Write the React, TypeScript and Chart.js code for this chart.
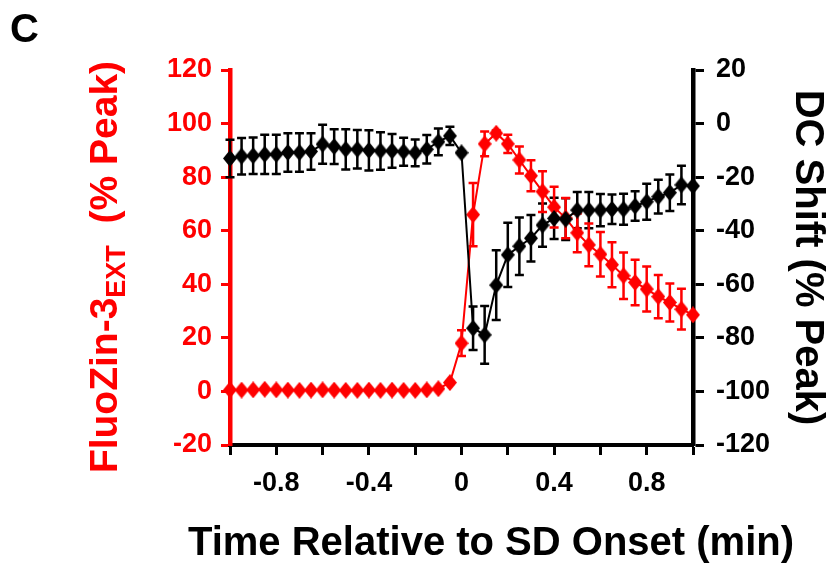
import React, { useEffect, useRef } from 'react';
import { Chart, registerables } from 'chart.js';

Chart.register(...registerables);

// Time relative to SD onset (min)
const timeMin = [
  -1, -0.95, -0.9, -0.85, -0.8, -0.75, -0.7, -0.65, -0.6, -0.55, -0.5,
  -0.45, -0.4, -0.35, -0.3, -0.25, -0.2, -0.15, -0.1, -0.05, 0,
  0.05, 0.1, 0.15, 0.2, 0.25, 0.3, 0.35, 0.4, 0.45, 0.5,
  0.55, 0.6, 0.65, 0.7, 0.75, 0.8, 0.85, 0.9, 0.95, 1,
];

// FluoZin-3 EXT (% Peak), left axis
const fluoZinMean = [
  0.6, 0.5, 0.6, 0.8, 0.6, 0.5, 0.4, 0.5, 0.6, 0.5, 0.4,
  0.4, 0.5, 0.4, 0.5, 0.4, 0.4, 0.6, 1.0, 3.3, 18,
  66, 92.4, 96.4, 92.4, 86.4, 80.5, 74.6, 68.8, 64.7, 59.2,
  54.7, 51.2, 47.3, 43.2, 40.7, 38.2, 35.4, 33.2, 30.7, 28.6,
];
const fluoZinSem = [
  0, 0, 0, 0, 0, 0, 0, 0, 0, 0, 0,
  0, 0, 0, 0, 0, 0, 0, 0, 0.5, 4.8,
  11.8, 4.6, 1, 3.4, 5, 5.8, 7.6, 7.6, 7.5, 7.2,
  8, 8.3, 8.4, 8.7, 8.5, 8.4, 8.1, 7.1, 7.6, 0,
];

// DC Shift (% Peak), right axis
const dcShiftMean = [
  -13, -12.2, -12, -11.5, -11.5, -10.8, -10.8, -10.4, -7.7, -8.6, -9.6,
  -9.6, -10, -10.2, -10.2, -10.5, -10.9, -9.6, -6.8, -4.6, -10.9,
  -76.4, -78.9, -60.3, -49, -45.8, -42.8, -37.9, -35.4, -35.7, -32.3,
  -32.3, -32.3, -32, -32, -30.8, -29.2, -27.3, -25.8, -22.9, -23.3,
];
const dcShiftSem = [
  7, 6.8, 6.8, 7.3, 7.3, 7.2, 7.2, 6.8, 7.3, 6.5, 7.5,
  7.2, 7.5, 7, 6.3, 5.2, 5, 5.3, 5, 3.4, 0.5,
  8.1, 10.8, 13, 12, 10.7, 8.7, 8.1, 7.7, 7.8, 6.8,
  6.8, 6, 5.5, 5.8, 5.5, 6.7, 6.3, 6.8, 7.2, 0,
];

const xTickValues = [-0.8, -0.4, 0, 0.4, 0.8];
const xTickLabels = ['-0.8', '-0.4', '0', '0.4', '0.8'];

const RED = '#ff0000';
const BLACK = '#000000';
const FONT = '"Liberation Sans", Arial, Helvetica, sans-serif';

export default function App() {
  const ref = useRef<HTMLCanvasElement>(null);

  useEffect(() => {
    const canvas = ref.current;
    if (!canvas) return;

    const makeDiamond = (color: string) => {
      const c = document.createElement('canvas');
      const w = 14;
      const h = 17;
      c.width = w;
      c.height = h;
      const g = c.getContext('2d')!;
      g.fillStyle = color;
      g.beginPath();
      g.moveTo(w / 2, 0);
      g.lineTo(w, h / 2);
      g.lineTo(w / 2, h);
      g.lineTo(0, h / 2);
      g.closePath();
      g.fill();
      return c;
    };

    const errorSets = [
      { mean: dcShiftMean, sem: dcShiftSem, axis: 'yR', color: BLACK },
      { mean: fluoZinMean, sem: fluoZinSem, axis: 'yL', color: RED },
    ];

    const errorBarPlugin = {
      id: 'errorBars',
      beforeDatasetsDraw(chart: any) {
        const ctx = chart.ctx;
        const xs = chart.scales.x;
        ctx.save();
        errorSets.forEach((s) => {
          const ys = chart.scales[s.axis];
          ctx.strokeStyle = s.color;
          ctx.lineWidth = 2.5;
          s.mean.forEach((m, i) => {
            const e = s.sem[i];
            if (!e) return;
            const px = xs.getPixelForValue(timeMin[i]);
            const top = ys.getPixelForValue(m + e);
            const bot = ys.getPixelForValue(m - e);
            const cap = 4.5;
            ctx.beginPath();
            ctx.moveTo(px, top);
            ctx.lineTo(px, bot);
            ctx.moveTo(px - cap, top);
            ctx.lineTo(px + cap, top);
            ctx.moveTo(px - cap, bot);
            ctx.lineTo(px + cap, bot);
            ctx.stroke();
          });
        });
        ctx.restore();
      },
    };

    const annotationPlugin = {
      id: 'panelText',
      afterDraw(chart: any) {
        const ctx = chart.ctx;
        ctx.save();
        // panel letter
        ctx.fillStyle = BLACK;
        ctx.font = `bold 40px ${FONT}`;
        ctx.textBaseline = 'alphabetic';
        ctx.textAlign = 'left';
        ctx.fillText('C', 10, 42);

        // x axis title
        ctx.textAlign = 'center';
        ctx.fillText('Time Relative to SD Onset (min)', 491, 555);
        ctx.textAlign = 'left';

        // left axis title with subscript
        const mainFont = `bold 39px ${FONT}`;
        const subFont = `bold 27px ${FONT}`;
        const p1 = 'FluoZin-3';
        const p2 = 'EXT';
        const p3 = '  (% Peak)';
        ctx.font = mainFont;
        const w1 = ctx.measureText(p1).width;
        const w3 = ctx.measureText(p3).width;
        ctx.font = subFont;
        const w2 = ctx.measureText(p2).width;
        const total = w1 + w2 + w3;
        const cy = 267;
        ctx.translate(117, cy);
        ctx.rotate(-Math.PI / 2);
        ctx.fillStyle = RED;
        let x = -total / 2;
        ctx.font = mainFont;
        ctx.fillText(p1, x, 0);
        x += w1;
        ctx.font = subFont;
        ctx.fillText(p2, x, 8);
        x += w2;
        ctx.font = mainFont;
        ctx.fillText(p3, x, 0);
        ctx.restore();
      },
    };

    const redPt = makeDiamond(RED);
    const blackPt = makeDiamond(BLACK);

    const chart = new Chart(canvas, {
      type: 'line',
      data: {
        datasets: [
          {
            label: 'DC Shift',
            data: timeMin.map((t, i) => ({ x: t, y: dcShiftMean[i] })),
            yAxisID: 'yR',
            borderColor: BLACK,
            borderWidth: 2,
            pointStyle: blackPt as any,
            pointRadius: 7,
            backgroundColor: BLACK,
            tension: 0,
            clip: false as any,
            order: 0,
          },
          {
            label: 'FluoZin-3',
            data: timeMin.map((t, i) => ({ x: t, y: fluoZinMean[i] })),
            yAxisID: 'yL',
            borderColor: RED,
            borderWidth: 2,
            pointStyle: redPt as any,
            pointRadius: 7,
            backgroundColor: RED,
            tension: 0,
            clip: false as any,
            order: 1,
          },
        ],
      },
      options: {
        responsive: false,
        animation: false,
        events: [],
        devicePixelRatio: 1,
        layout: { padding: { top: 70, left: 0, right: 0, bottom: 0 } },
        plugins: {
          legend: { display: false },
          tooltip: { enabled: false },
        },
        scales: {
          x: {
            type: 'linear',
            position: 'bottom',
            min: -1,
            max: 1,
            afterFit: (s: any) => {
              s.height = 122;
            },
            border: { display: true, color: BLACK, width: 4 },
            grid: {
              drawOnChartArea: false,
              drawTicks: true,
              tickLength: 10,
              tickWidth: 3,
              color: BLACK,
            },
            ticks: {
              stepSize: 0.2,
              autoSkip: false,
              maxRotation: 0,
              minRotation: 0,
              padding: 12,
              color: BLACK,
              font: { family: FONT, size: 27, weight: 'bold' },
              callback: (v: any) => {
                const idx = xTickValues.findIndex((t) => Math.abs(t - Number(v)) < 1e-6);
                return idx >= 0 ? xTickLabels[idx] : '';
              },
            },
            title: { display: false },
          },
          yL: {
            type: 'linear',
            position: 'left',
            min: -20,
            max: 120,
            afterFit: (s: any) => {
              s.width = 230;
            },
            border: { display: true, color: RED, width: 4.5 },
            grid: {
              drawOnChartArea: false,
              drawTicks: true,
              tickLength: 9,
              tickWidth: 3,
              color: RED,
            },
            ticks: {
              stepSize: 20,
              padding: 9,
              color: RED,
              font: { family: FONT, size: 27, weight: 'bold' },
            },
          },
          yR: {
            type: 'linear',
            position: 'right',
            min: -120,
            max: 20,
            afterFit: (s: any) => {
              s.width = 140;
            },
            border: { display: true, color: BLACK, width: 4.5 },
            grid: {
              drawOnChartArea: false,
              drawTicks: true,
              tickLength: 11,
              tickWidth: 3,
              color: BLACK,
            },
            ticks: {
              stepSize: 20,
              padding: 12,
              color: BLACK,
              font: { family: FONT, size: 27, weight: 'bold' },
            },
            title: {
              display: true,
              text: 'DC Shift (% Peak)',
              color: BLACK,
              font: { family: FONT, size: 40, weight: 'bold', lineHeight: 1.2 },
              padding: { top: 2, bottom: 0 },
            },
          },
        },
      } as any,
      plugins: [errorBarPlugin, annotationPlugin],
    });

    return () => {
      chart.destroy();
    };
  }, []);

  return (
    <div style={{ position: 'fixed', left: 0, top: 0, width: 833, height: 567, background: '#fff' }}>
      <canvas ref={ref} width={833} height={567} style={{ display: 'block' }} />
    </div>
  );
}
